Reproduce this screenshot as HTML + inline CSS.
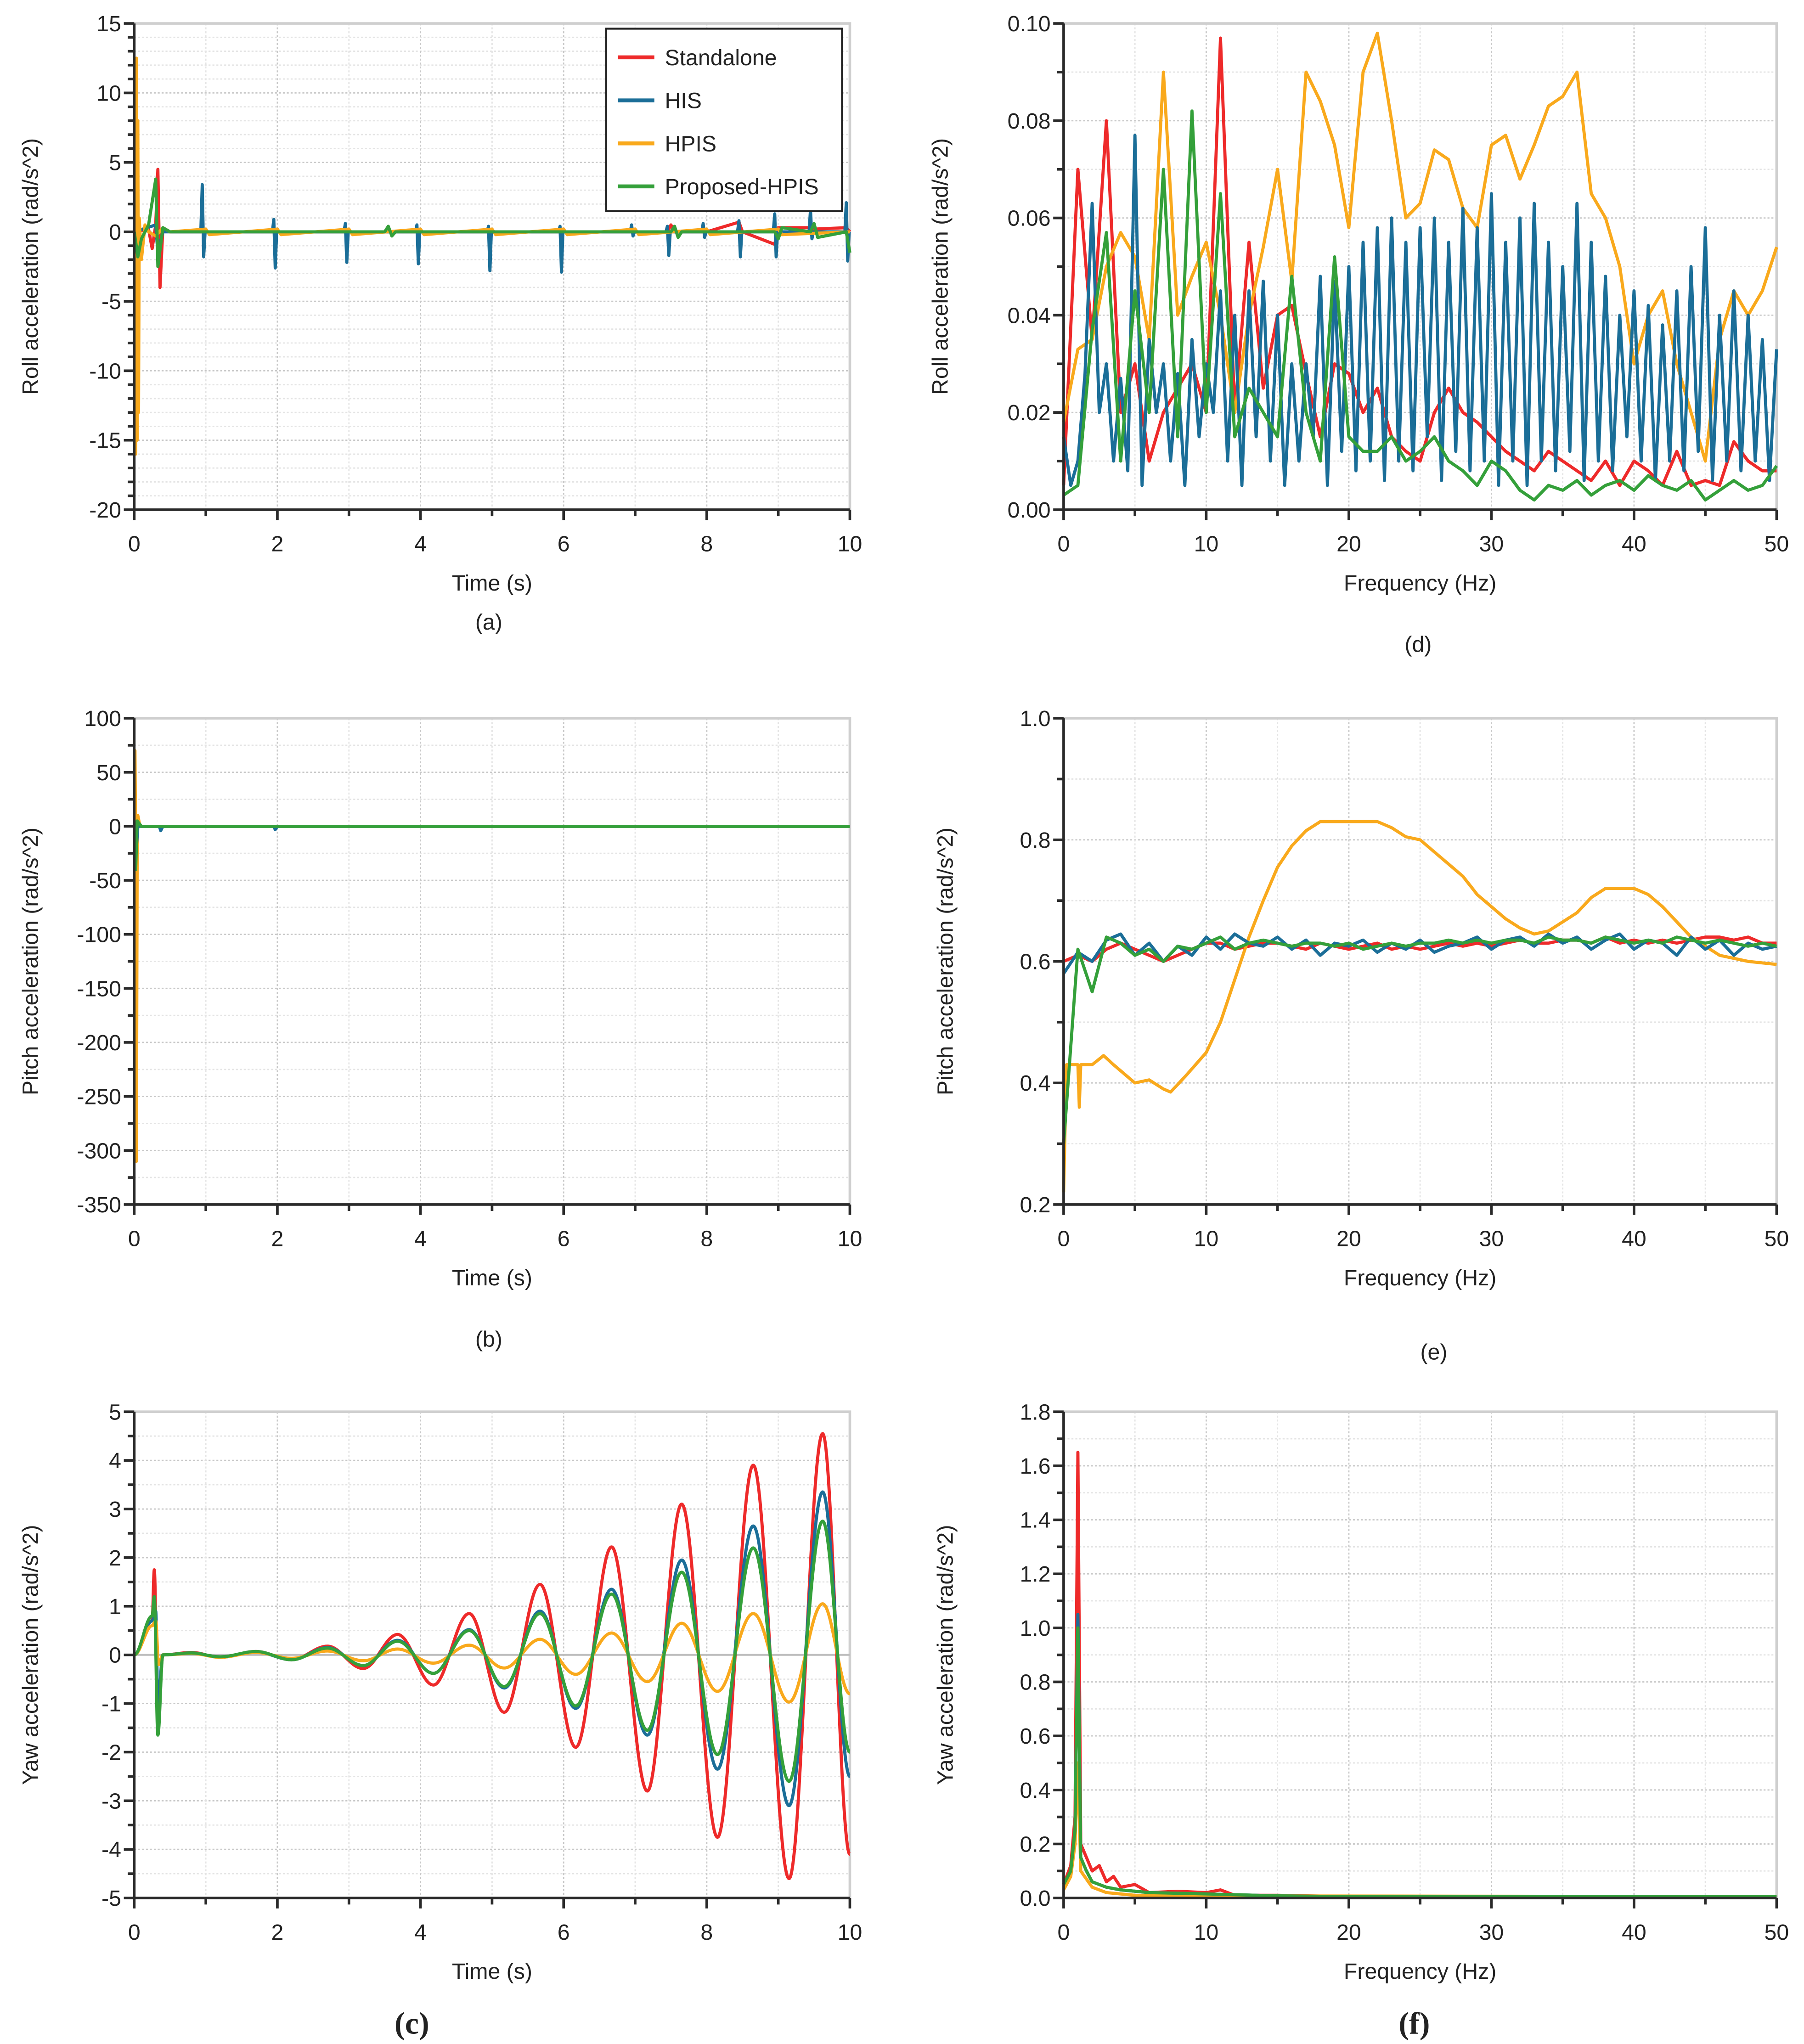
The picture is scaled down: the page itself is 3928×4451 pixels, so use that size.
<!DOCTYPE html>
<html><head><meta charset="utf-8">
<style>
html,body{margin:0;padding:0;background:#fff;}
svg{display:block;}
text{font-family:"Liberation Sans",sans-serif;fill:#222;}
</style></head>
<body>
<svg id="fig" xmlns="http://www.w3.org/2000/svg" width="3928" height="4451" viewBox="0 0 1384 1568" preserveAspectRatio="none">
<rect x="0" y="0" width="1384" height="1568" fill="#fff"/>
</svg>
<script>
// ---------- data ----------
const seriesNames = ["Standalone","HIS","HPIS","Proposed-HPIS"];
const seriesColors = ["#ee2a2a","#1b6e98","#f9a91c","#34a03a"];

// (a) Roll acceleration, time domain
const aStandalone = [[0,0],[0.2,0.2],[0.25,-1.2],[0.3,0.5],[0.33,4.5],[0.36,-4.0],[0.4,0.3],[0.5,0],[7.45,0],[7.5,0.5],[7.55,0],[8.0,0],[8.45,0.7],[8.5,0],[8.95,-0.9],[9.0,0.3],[9.45,0.3],[9.5,0.2],[9.95,0.3],[10,0]];
const aHISspikeT = [0.95,1.95,2.95,3.95,4.95,5.95,6.95,7.45,7.95,8.45,8.95,9.45,9.95];
const aHISspikeHi = [3.4,0.9,0.6,0.5,0.4,0.4,0.5,0.4,0.6,0.8,1.3,1.6,2.1];
const aHISspikeLo = [-1.8,-2.6,-2.2,-2.3,-2.8,-2.9,-0.3,-1.7,-0.4,-1.8,-1.8,-0.5,-2.1];
const aHPIS = [[0,0],[0.01,8],[0.02,-16],[0.03,12.5],[0.04,-15],[0.05,8],[0.06,-13],[0.07,1],[0.1,-2],[0.15,0.5],[0.2,0],[0.3,-0.3],[0.4,0.3],[0.5,0],[1,0.2],[1.05,-0.2],[2,0.2],[2.05,-0.2],[3,0.2],[3.05,-0.2],[4,0.2],[4.05,-0.2],[5,0.2],[5.05,-0.2],[6,0.2],[6.05,-0.2],[7,0.2],[7.05,-0.2],[8,0.2],[8.05,-0.2],[9,0.2],[9.05,-0.2],[10,0]];
const aProposed = [[0,0],[0.05,-1.8],[0.1,-0.5],[0.2,0.5],[0.3,3.8],[0.33,-2.5],[0.4,0.3],[0.5,0],[3.5,0],[3.55,0.4],[3.6,-0.3],[3.65,0],[7.5,0],[7.55,0.4],[7.6,-0.4],[7.65,0],[8.95,0],[9,-0.5],[9.05,0.3],[9.45,0],[9.5,0.6],[9.55,-0.4],[9.95,0],[10,-1.5]];

// (b) Pitch acceleration
const bHPIS = [[0,0],[0.01,70],[0.02,-20],[0.03,-310],[0.04,-40],[0.05,10],[0.08,0],[10,0]];
const bHIS = [[0,0],[0.02,-30],[0.05,0],[0.35,0],[0.37,-4],[0.4,0],[1.95,0],[1.97,-3],[2,0],[10,0]];
const bProposed = [[0,0],[0.02,-40],[0.04,5],[0.1,0],[10,0]];

// (c) Yaw acceleration (extrema)
const cStandalone = [[0,0],[0.25,0.7],[0.28,1.75],[0.33,-1.5],[0.4,0],[0.8,0.05],[1.2,-0.05],[1.7,0.07],[2.2,-0.1],[2.7,0.18],[3.2,-0.28],[3.68,0.42],[4.18,-0.62],[4.68,0.85],[5.17,-1.18],[5.67,1.45],[6.17,-1.9],[6.67,2.22],[7.17,-2.8],[7.65,3.1],[8.15,-3.75],[8.65,3.9],[9.15,-4.6],[9.62,4.55],[10,-4.1]];
const cHIS = [[0,0],[0.25,0.7],[0.3,0.9],[0.33,-1.0],[0.4,0],[0.8,0.04],[1.2,-0.04],[1.7,0.06],[2.2,-0.1],[2.7,0.15],[3.2,-0.22],[3.68,0.3],[4.18,-0.38],[4.68,0.52],[5.17,-0.68],[5.67,0.9],[6.17,-1.1],[6.67,1.35],[7.17,-1.65],[7.65,1.95],[8.15,-2.35],[8.65,2.65],[9.15,-3.1],[9.62,3.35],[10,-2.5]];
const cHPIS = [[0,0],[0.25,0.6],[0.3,0.7],[0.34,-0.2],[0.4,0],[0.8,0.03],[1.2,-0.05],[1.7,0.05],[2.2,-0.07],[2.7,0.08],[3.2,-0.12],[3.68,0.12],[4.18,-0.17],[4.68,0.2],[5.17,-0.27],[5.67,0.32],[6.17,-0.4],[6.67,0.45],[7.17,-0.55],[7.65,0.65],[8.15,-0.75],[8.65,0.85],[9.15,-0.97],[9.62,1.05],[10,-0.8]];
const cProposed = [[0,0],[0.25,0.8],[0.28,1.2],[0.33,-1.65],[0.4,0],[0.8,0.04],[1.2,-0.04],[1.7,0.07],[2.2,-0.1],[2.7,0.14],[3.2,-0.22],[3.68,0.28],[4.18,-0.38],[4.68,0.5],[5.17,-0.65],[5.67,0.85],[6.17,-1.05],[6.67,1.25],[7.17,-1.55],[7.65,1.7],[8.15,-2.05],[8.65,2.2],[9.15,-2.6],[9.62,2.75],[10,-2.0]];

// (d) Roll spectrum
const dStepHIS = 0.5, dStep = 1;
const dHIS = [0.015,0.005,0.01,0.028,0.063,0.02,0.03,0.01,0.027,0.008,0.077,0.005,0.035,0.02,0.03,0.01,0.028,0.005,0.035,0.015,0.03,0.02,0.045,0.01,0.04,0.005,0.045,0.015,0.047,0.01,0.04,0.005,0.03,0.01,0.03,0.015,0.048,0.005,0.047,0.012,0.05,0.008,0.055,0.01,0.058,0.006,0.06,0.01,0.055,0.008,0.058,0.015,0.06,0.006,0.055,0.012,0.062,0.008,0.058,0.01,0.065,0.005,0.055,0.01,0.06,0.005,0.063,0.01,0.055,0.008,0.05,0.012,0.063,0.006,0.055,0.01,0.048,0.008,0.04,0.015,0.045,0.01,0.042,0.006,0.038,0.01,0.045,0.008,0.05,0.012,0.058,0.006,0.04,0.01,0.045,0.008,0.04,0.01,0.035,0.006,0.033];
const dStandalone = [0.005,0.07,0.035,0.08,0.02,0.03,0.01,0.02,0.025,0.03,0.02,0.097,0.02,0.055,0.025,0.04,0.042,0.028,0.015,0.03,0.028,0.02,0.025,0.015,0.012,0.01,0.02,0.025,0.02,0.018,0.015,0.012,0.01,0.008,0.012,0.01,0.008,0.006,0.01,0.005,0.01,0.008,0.005,0.012,0.005,0.006,0.005,0.014,0.01,0.008,0.008];
const dHPIS = [0.018,0.033,0.035,0.05,0.057,0.052,0.035,0.09,0.04,0.048,0.055,0.04,0.02,0.04,0.054,0.07,0.047,0.09,0.084,0.075,0.058,0.09,0.098,0.08,0.06,0.063,0.074,0.072,0.062,0.058,0.075,0.077,0.068,0.075,0.083,0.085,0.09,0.065,0.06,0.05,0.03,0.04,0.045,0.03,0.02,0.01,0.035,0.045,0.04,0.045,0.054];
const dProposed = [0.003,0.005,0.037,0.057,0.01,0.045,0.02,0.07,0.015,0.082,0.02,0.065,0.015,0.025,0.02,0.015,0.048,0.02,0.01,0.052,0.015,0.012,0.012,0.015,0.01,0.012,0.015,0.01,0.008,0.005,0.01,0.008,0.004,0.002,0.005,0.004,0.006,0.003,0.005,0.006,0.004,0.007,0.005,0.004,0.006,0.002,0.004,0.006,0.004,0.005,0.009];

// (e) Pitch spectrum
const eStandalone = [0.6,0.61,0.6,0.62,0.63,0.62,0.61,0.6,0.61,0.62,0.63,0.63,0.62,0.625,0.63,0.63,0.625,0.62,0.63,0.625,0.62,0.625,0.63,0.62,0.625,0.62,0.625,0.63,0.625,0.63,0.625,0.63,0.635,0.63,0.63,0.635,0.635,0.63,0.64,0.63,0.635,0.63,0.635,0.63,0.635,0.64,0.64,0.635,0.64,0.63,0.63];
const eHIS = [0.58,0.615,0.6,0.635,0.645,0.61,0.63,0.6,0.625,0.61,0.64,0.62,0.645,0.63,0.625,0.64,0.62,0.635,0.61,0.63,0.625,0.635,0.615,0.63,0.62,0.635,0.615,0.625,0.63,0.64,0.62,0.635,0.64,0.625,0.645,0.63,0.64,0.62,0.635,0.645,0.62,0.635,0.63,0.61,0.64,0.62,0.635,0.61,0.63,0.62,0.625];
const eProposed = [0.3,0.62,0.55,0.64,0.63,0.61,0.62,0.6,0.625,0.62,0.63,0.64,0.62,0.63,0.635,0.63,0.625,0.63,0.63,0.625,0.63,0.62,0.625,0.63,0.625,0.63,0.63,0.635,0.63,0.635,0.63,0.635,0.635,0.63,0.64,0.635,0.635,0.63,0.64,0.635,0.63,0.635,0.63,0.64,0.635,0.63,0.635,0.63,0.625,0.63,0.625];
const eHPIS = [[0,0.22],[0.2,0.43],[1,0.43],[1.1,0.36],[1.2,0.43],[2,0.43],[2.8,0.445],[3.5,0.43],[5,0.40],[6,0.405],[7,0.39],[7.5,0.385],[8.5,0.41],[10,0.45],[11,0.5],[12,0.57],[13,0.64],[14,0.7],[15,0.755],[16,0.79],[17,0.815],[18,0.83],[20,0.83],[22,0.83],[23,0.82],[24,0.805],[25,0.8],[26,0.78],[27,0.76],[28,0.74],[29,0.71],[30,0.69],[31,0.67],[32,0.655],[33,0.645],[34,0.65],[35,0.665],[36,0.68],[37,0.705],[38,0.72],[40,0.72],[41,0.71],[42,0.69],[43,0.665],[44,0.64],[45,0.625],[46,0.61],[48,0.6],[50,0.595]];

// (f) Yaw spectrum
const fStandalone = [[0,0.05],[0.5,0.12],[0.8,0.3],[1,1.65],[1.2,0.2],[1.6,0.15],[2,0.1],[2.5,0.12],[3,0.06],[3.5,0.08],[4,0.04],[5,0.05],[6,0.02],[8,0.025],[10,0.02],[11,0.03],[12,0.01],[15,0.01],[20,0.005],[30,0.005],[40,0.005],[50,0.005]];
const fHIS = [[0,0.05],[0.5,0.1],[0.8,0.25],[1,1.05],[1.2,0.15],[1.6,0.1],[2,0.06],[3,0.04],[4,0.03],[6,0.02],[10,0.015],[15,0.008],[20,0.005],[50,0.005]];
const fHPIS = [[0,0.03],[0.5,0.08],[0.8,0.2],[1,0.5],[1.2,0.1],[2,0.04],[3,0.02],[5,0.01],[10,0.008],[50,0.005]];
const fProposed = [[0,0.05],[0.5,0.1],[0.8,0.25],[1,1.0],[1.2,0.15],[1.6,0.1],[2,0.06],[3,0.04],[4,0.03],[6,0.02],[10,0.015],[15,0.008],[20,0.005],[50,0.005]];

// ---------- drawing ----------
const NS = "http://www.w3.org/2000/svg";
const svg = document.getElementById("fig");
function mk(tag, parent){ const e=document.createElementNS(NS,tag); parent.appendChild(e); return e; }
function fmt(v,d){ return v.toFixed(d); }

function panel(cfg){
  const g = mk("g", svg);
  
  
  const X = v => cfg.l + (v-cfg.xmin)/(cfg.xmax-cfg.xmin)*(cfg.r-cfg.l);
  const Y = v => cfg.b - (v-cfg.ymin)/(cfg.ymax-cfg.ymin)*(cfg.b-cfg.t);
  const eps=1e-9;
  for(let v=cfg.ymin; v<=cfg.ymax+eps; v+=cfg.yminor){
    const ln=mk("line",g); const major=Math.abs(Math.round((v-cfg.ymin)/cfg.ymajor)*cfg.ymajor-(v-cfg.ymin))<eps;
    
    
    ln.setAttribute("x1",cfg.l);ln.setAttribute("x2",cfg.r);ln.setAttribute("y1",Y(v));ln.setAttribute("y2",Y(v));
    ln.setAttribute("stroke",major?"#c8c8c8":"#e4e4e4");ln.setAttribute("stroke-width",1);ln.setAttribute("stroke-dasharray","1.5,1.5");
  }
  for(let v=cfg.xmin; v<=cfg.xmax+eps; v+=cfg.xminor){
    const ln=mk("line",g); const major=Math.abs(Math.round((v-cfg.xmin)/cfg.xmajor)*cfg.xmajor-(v-cfg.xmin))<eps;
    
    
    ln.setAttribute("y1",cfg.t);ln.setAttribute("y2",cfg.b);ln.setAttribute("x1",X(v));ln.setAttribute("x2",X(v));
    ln.setAttribute("stroke",major?"#c8c8c8":"#e4e4e4");ln.setAttribute("stroke-width",1);ln.setAttribute("stroke-dasharray","1.5,1.5");
  }
  const fr=mk("path",g);
  
  
  fr.setAttribute("d",`M${cfg.l},${cfg.t}H${cfg.r}V${cfg.b}`);fr.setAttribute("fill","none");fr.setAttribute("stroke","#cfcfcf");fr.setAttribute("stroke-width",2);
  if(cfg.zeroLine){
    const z=mk("line",g);
    
    
    z.setAttribute("x1",cfg.l);z.setAttribute("x2",cfg.r);z.setAttribute("y1",Y(0));z.setAttribute("y2",Y(0));z.setAttribute("stroke","#bdbdbd");z.setAttribute("stroke-width",1.5);
  }
  const sg=mk("g",g);
  
  
  cfg.series.forEach(s=>{
    const p=mk("path",sg);
    
    
    let d="";
    const pts=s.pts.map(q=>[X(q[0]),Y(q[1])]);
    if(s.smooth){
      d="M"+pts[0][0]+","+pts[0][1];
      for(let i=1;i<pts.length;i++){const a=pts[i-1],b=pts[i],dx=b[0]-a[0];
        d+=` C${a[0]+dx*0.36},${a[1]} ${b[0]-dx*0.36},${b[1]} ${b[0]},${b[1]}`;}
    } else d="M"+pts.map(q=>q[0].toFixed(2)+","+q[1].toFixed(2)).join("L");
    p.setAttribute("d",d);p.setAttribute("fill","none");p.setAttribute("stroke",s.color);
    p.setAttribute("stroke-width",s.w||2.4);p.setAttribute("stroke-linejoin","round");
  });
  const ax=mk("path",g);
  
  
  ax.setAttribute("d",`M${cfg.l},${cfg.t}V${cfg.b}H${cfg.r}`);ax.setAttribute("fill","none");ax.setAttribute("stroke","#2a2a2a");ax.setAttribute("stroke-width",2);
  for(let v=cfg.ymin; v<=cfg.ymax+eps; v+=cfg.yminor){
    const major=Math.abs(Math.round((v-cfg.ymin)/cfg.ymajor)*cfg.ymajor-(v-cfg.ymin))<eps;
    const tk=mk("line",g);
    
    
    tk.setAttribute("x1",cfg.l-(major?8:5));tk.setAttribute("x2",cfg.l);tk.setAttribute("y1",Y(v));tk.setAttribute("y2",Y(v));tk.setAttribute("stroke","#2a2a2a");tk.setAttribute("stroke-width",2);
    if(major){const t=mk("text",g);
      
      
      t.setAttribute("x",cfg.l-10);t.setAttribute("y",Y(v)+6);t.setAttribute("text-anchor","end");t.setAttribute("font-size",17);
      t.textContent=fmt(v,cfg.yd);}
  }
  for(let v=cfg.xmin; v<=cfg.xmax+eps; v+=cfg.xminor){
    const major=Math.abs(Math.round((v-cfg.xmin)/cfg.xmajor)*cfg.xmajor-(v-cfg.xmin))<eps;
    const tk=mk("line",g);
    
    
    tk.setAttribute("y1",cfg.b);tk.setAttribute("y2",cfg.b+(major?8:5));tk.setAttribute("x1",X(v));tk.setAttribute("x2",X(v));tk.setAttribute("stroke","#2a2a2a");tk.setAttribute("stroke-width",2);
    if(major){const t=mk("text",g);
      
      
      t.setAttribute("x",X(v));t.setAttribute("y",cfg.b+32);t.setAttribute("text-anchor","middle");t.setAttribute("font-size",17);
      t.textContent=fmt(v,0);}
  }
  const xl=mk("text",g);
  
  
  xl.setAttribute("x",(cfg.l+cfg.r)/2);xl.setAttribute("y",cfg.b+62);xl.setAttribute("text-anchor","middle");xl.setAttribute("font-size",17);xl.textContent=cfg.xlabel;
  const yl=mk("text",g);
  
  
  const cy=(cfg.t+cfg.b)/2;
  yl.setAttribute("transform",`translate(${cfg.ytx},${cy}) rotate(-90)`);yl.setAttribute("text-anchor","middle");yl.setAttribute("font-size",17);yl.textContent=cfg.ylabel;
  const pl=mk("text",g);
  
  
  pl.setAttribute("x",cfg.labX);pl.setAttribute("y",cfg.labY);pl.setAttribute("text-anchor","middle");
  if(cfg.bold){pl.setAttribute("font-size",24);pl.setAttribute("font-weight","bold");pl.setAttribute("style","font-family:'Liberation Serif',serif");}
  else pl.setAttribute("font-size",17);
  pl.textContent=cfg.lab;
  return {X,Y,g};
}
function idx(arr,step){ return arr.map((v,i)=>[i*step,v]); }

const aHIS=[[0,0],[0.3,0.5],[0.33,-1.5],[0.4,0]];
aHISspikeT.forEach((t,i)=>{aHIS.push([t-0.02,0],[t,aHISspikeHi[i]],[t+0.02,aHISspikeLo[i]],[t+0.04,0]);});
aHIS.push([10,0]);

const S=(n,i,pts,extra)=>Object.assign({name:n,color:seriesColors[i],pts:pts},extra||{});
const pa=panel({name:"panel-a-roll-time",l:103,r:652,t:18,b:391,xmin:0,xmax:10,xmajor:2,xminor:1,ymin:-20,ymax:15,ymajor:5,yminor:1,yd:0,ytx:29,
  xlabel:"Time (s)",ylabel:"Roll acceleration (rad/s^2)",lab:"(a)",labX:375,labY:483,
  series:[S("standalone-line",0,aStandalone),S("his-line",1,aHIS),S("hpis-line",2,aHPIS),S("proposed-hpis-line",3,aProposed)]});
panel({name:"panel-d-roll-spectrum",l:816,r:1363,t:18,b:391,xmin:0,xmax:50,xmajor:10,xminor:5,ymin:0,ymax:0.1,ymajor:0.02,yminor:0.01,yd:2,ytx:727,
  xlabel:"Frequency (Hz)",ylabel:"Roll acceleration (rad/s^2)",lab:"(d)",labX:1088,labY:500,
  series:[S("standalone-line",0,idx(dStandalone,dStep)),S("hpis-line",2,idx(dHPIS,dStep)),S("his-line",1,idx(dHIS,dStepHIS)),S("proposed-hpis-line",3,idx(dProposed,dStep))]});
panel({name:"panel-b-pitch-time",l:103,r:652,t:551,b:924,xmin:0,xmax:10,xmajor:2,xminor:1,ymin:-350,ymax:100,ymajor:50,yminor:25,yd:0,ytx:29,
  xlabel:"Time (s)",ylabel:"Pitch acceleration (rad/s^2)",lab:"(b)",labX:375,labY:1033,
  series:[S("hpis-line",2,bHPIS),S("his-line",1,bHIS),S("proposed-hpis-line",3,bProposed)]});
panel({name:"panel-e-pitch-spectrum",l:816,r:1363,t:551,b:924,xmin:0,xmax:50,xmajor:10,xminor:5,ymin:0.2,ymax:1.0,ymajor:0.2,yminor:0.1,yd:1,ytx:731,
  xlabel:"Frequency (Hz)",ylabel:"Pitch acceleration (rad/s^2)",lab:"(e)",labX:1100,labY:1043,
  series:[S("standalone-line",0,idx(eStandalone,1)),S("hpis-line",2,eHPIS),S("his-line",1,idx(eHIS,1)),S("proposed-hpis-line",3,idx(eProposed,1))]});
panel({name:"panel-c-yaw-time",l:103,r:652,t:1083,b:1456,xmin:0,xmax:10,xmajor:2,xminor:1,ymin:-5,ymax:5,ymajor:1,yminor:0.5,yd:0,zeroLine:true,ytx:29,
  xlabel:"Time (s)",ylabel:"Yaw acceleration (rad/s^2)",lab:"(c)",labX:316,labY:1560,bold:true,
  series:[S("standalone-line",0,cStandalone,{smooth:true}),S("his-line",1,cHIS,{smooth:true}),S("hpis-line",2,cHPIS,{smooth:true}),S("proposed-hpis-line",3,cProposed,{smooth:true})]});
panel({name:"panel-f-yaw-spectrum",l:816,r:1363,t:1083,b:1456,xmin:0,xmax:50,xmajor:10,xminor:5,ymin:0,ymax:1.8,ymajor:0.2,yminor:0.1,yd:1,ytx:731,
  xlabel:"Frequency (Hz)",ylabel:"Yaw acceleration (rad/s^2)",lab:"(f)",labX:1085,labY:1560,bold:true,
  series:[S("standalone-line",0,fStandalone),S("his-line",1,fHIS),S("hpis-line",2,fHPIS),S("proposed-hpis-line",3,fProposed)]});

const lg=mk("g",pa.g);


const lr=mk("rect",lg);


lr.setAttribute("x",465);lr.setAttribute("y",22);lr.setAttribute("width",181);lr.setAttribute("height",140);lr.setAttribute("fill","#fff");lr.setAttribute("stroke","#222");lr.setAttribute("stroke-width",1.5);
seriesNames.forEach((n,i)=>{
  const y=44+i*33;
  const l=mk("line",lg);
  
  
  l.setAttribute("x1",474);l.setAttribute("x2",502);l.setAttribute("y1",y);l.setAttribute("y2",y);l.setAttribute("stroke",seriesColors[i]);l.setAttribute("stroke-width",3);
  const t=mk("text",lg);
  
  
  t.setAttribute("x",510);t.setAttribute("y",y+6);t.setAttribute("font-size",17);t.textContent=n;
});
</script>
</body></html>
